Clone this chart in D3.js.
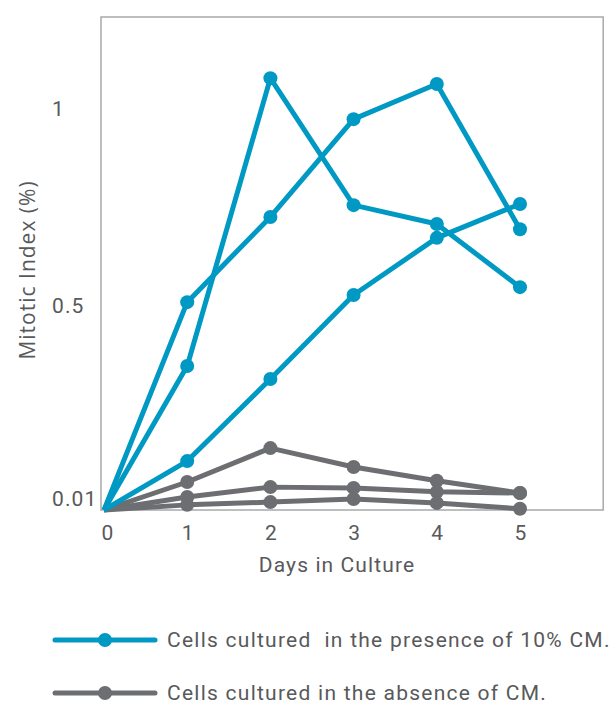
<!DOCTYPE html>
<html>
<head>
<meta charset="utf-8">
<script src="https://cdn.jsdelivr.net/npm/d3@7"></script>
<style>
	body { margin: 0; background: #fff; }
	text { font-family: Roboto, "DejaVu Sans", sans-serif; fill: #58595b; letter-spacing: 1.1px; }
	text.ylabel { font-family: "Open Sans", sans-serif; letter-spacing: 1px; }
	text.legend-label { letter-spacing: 1.25px; }
</style>
</head>
<body>
<svg id="chart" width="615" height="704"></svg>
<script>
const days = [0, 1, 2, 3, 4, 5]

// mitotic index (%) per day
const withCM = [
	[0, 0.365, 1.095, 0.773, 0.725, 0.565],
	[0, 0.527, 0.743, 0.991, 1.080, 0.712],
	[0, 0.124, 0.332, 0.545, 0.690, 0.776]
]
const withoutCM = [
	[0, 0.071, 0.157, 0.109, 0.074, 0.043],
	[0, 0.033, 0.058, 0.056, 0.046, 0.043],
	[0, 0.013, 0.020, 0.028, 0.018, 0.003]
]
const yTicks = [0.01, 0.5, 1]
const legendLabels = ["Cells cultured  in the presence of 10% CM.", "Cells cultured in the absence of CM."]

const blue = "#0099c4"
const gray = "#6d6e71"

const svg = d3.select("#chart")

let xScale = d3.scaleLinear()
	.domain([0, 5])
	.range([104, 520])

let yScale = d3.scaleLinear()
	.domain([0, 1.25])
	.range([510, 17])

// frame
svg.append("rect")
	.attr("x", 101)
	.attr("y", 17)
	.attr("width", xScale(6) - 101)
	.attr("height", 510 - 17)
	.attr("fill", "none")
	.attr("stroke", "#a7a9ac")
	.attr("stroke-width", 1.5)

// y tick labels (left aligned)
svg.selectAll("text.ytick")
	.data(yTicks)
	.enter()
		.append("text")
		.attr("class", "ytick")
		.attr("x", 52)
		.attr("y", d => yScale(d) - 7)
		.attr("dy", "0.35em")
		.style("font-size", "21px")
		.text(d => d)

// x tick labels
svg.selectAll("text.xtick")
	.data(days)
	.enter()
		.append("text")
		.attr("class", "xtick")
		.attr("x", d => xScale(d) + (d == 0 ? 4 : 1))
		.attr("y", 533)
		.attr("dy", "0.35em")
		.attr("text-anchor", "middle")
		.style("font-size", "21px")
		.text(d => d)

svg.append("text")
	.attr("x", 337)
	.attr("y", 565)
	.attr("dy", "0.35em")
	.attr("text-anchor", "middle")
	.style("font-size", "21px")
	.text("Days in Culture")

svg.append("text")
	.attr("class", "ylabel")
	.attr("transform", "translate(28,270) rotate(-90)")
	.attr("dy", "0.35em")
	.attr("text-anchor", "middle")
	.style("font-size", "21px")
	.text("Mitotic Index (%)")

let line = d3.line()
	.x((d, i) => xScale(days[i]))
	.y(d => yScale(d))

function drawSeries(series, color) {
	series.forEach(function(s){
		let g = svg.append("g")
		g.append("path")
			.datum(s)
			.attr("d", line)
			.attr("fill", "none")
			.attr("stroke", color)
			.attr("stroke-width", 5)
			.attr("stroke-linejoin", "round")
		g.selectAll("circle")
			.data(s.slice(1))
			.enter()
				.append("circle")
				.attr("cx", (d, i) => xScale(days[i + 1]))
				.attr("cy", d => yScale(d))
				.attr("r", 7)
				.attr("fill", color)
	})
}

drawSeries(withoutCM, gray)
drawSeries(withCM, blue)

// legend
let legend = svg.selectAll("g.legend")
	.data([blue, gray])
	.enter()
		.append("g")
		.attr("class", "legend")
		.attr("transform", (d, i) => "translate(0," + (640 + i * 53) + ")")

legend.append("line")
	.attr("x1", 55)
	.attr("x2", 155)
	.attr("stroke", d => d)
	.attr("stroke-width", 5)
	.attr("stroke-linecap", "round")

legend.append("circle")
	.attr("cx", 105)
	.attr("r", 7)
	.attr("fill", d => d)

legend.append("text")
	.attr("class", "legend-label")
	.attr("x", 167)
	.attr("dy", "0.35em")
	.style("font-size", "21px")
	.style("white-space", "pre")
	.text((d, i) => legendLabels[i])
</script>
</body>
</html>
